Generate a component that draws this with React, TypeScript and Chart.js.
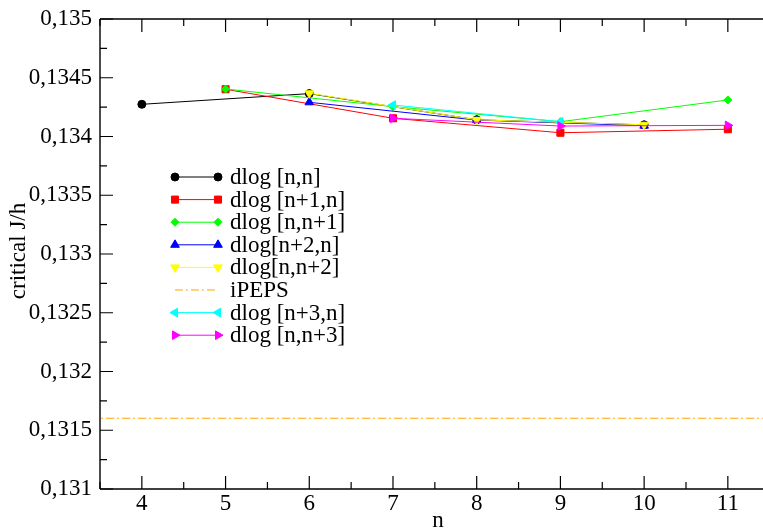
import React, { useEffect, useRef } from 'react';
import { Chart, registerables } from 'chart.js';
import { drawPoint } from 'chart.js/helpers';

Chart.register(...registerables);

const FONT = '"Liberation Serif", "Times New Roman", serif';
const FS = 23;

// ---- data ----
const xTicks = [4, 5, 6, 7, 8, 9, 10, 11];
const xMinor = [3.5, 4.5, 5.5, 6.5, 7.5, 8.5, 9.5, 10.5, 11.5];
const yTicks = [0.131, 0.1315, 0.132, 0.1325, 0.133, 0.1335, 0.134, 0.1345, 0.135];
const yMinor = [0.13125, 0.13175, 0.13225, 0.13275, 0.13325, 0.13375, 0.13425, 0.13475];
const xMin = 3.5;
const xMax = 11.42;
const yMin = 0.131;
const yMax = 0.135;

const nnX = [4, 6, 8, 10];
const nnY = [0.134274, 0.134365, 0.134142, 0.134099];
const n1nX = [5, 7, 9, 11];
const n1nY = [0.134402, 0.134155, 0.134032, 0.134062];
const nn1X = [5, 7, 9, 11];
const nn1Y = [0.134404, 0.134254, 0.134126, 0.134311];
const n2nX = [6, 8, 10];
const n2nY = [0.134291, 0.13414, 0.134092];
const nn2X = [6, 8, 10];
const nn2Y = [0.134368, 0.134142, 0.1341];
const ipepsX = [3, 12];
const ipepsY = [0.131602, 0.131602];
const n3nX = [7, 9];
const n3nY = [0.134268, 0.134126];
const nn3X = [7, 9, 11];
const nn3Y = [0.134155, 0.134089, 0.134095];

type Series = {
  label: string;
  xs: number[];
  ys: number[];
  color: string;
  style: any;
  rot: number;
  radius: number;
  dash?: number[];
};

const series: Series[] = [
  { label: 'dlog [n,n]', xs: nnX, ys: nnY, color: '#000000', style: 'circle', rot: 0, radius: 4 },
  { label: 'dlog [n+1,n]', xs: n1nX, ys: n1nY, color: '#ff0000', style: 'rect', rot: 0, radius: 5 },
  { label: 'dlog [n,n+1]', xs: nn1X, ys: nn1Y, color: '#00ff00', style: 'rectRot', rot: 0, radius: 4 },
  { label: 'dlog[n+2,n]', xs: n2nX, ys: n2nY, color: '#0000ff', style: 'triangle', rot: 0, radius: 5 },
  { label: 'dlog[n,n+2]', xs: nn2X, ys: nn2Y, color: '#ffff00', style: 'triangle', rot: 180, radius: 5 },
  { label: 'iPEPS', xs: ipepsX, ys: ipepsY, color: '#ffa500', style: false, rot: 0, radius: 0, dash: [8, 3, 2, 3] },
  { label: 'dlog [n+3,n]', xs: n3nX, ys: n3nY, color: '#00ffff', style: 'triangle', rot: -90, radius: 5 },
  { label: 'dlog [n,n+3]', xs: nn3X, ys: nn3Y, color: '#ff00ff', style: 'triangle', rot: 90, radius: 5 },
];

const fmt = (v: number) => String(Math.round(v * 1e5) / 1e5).replace('.', ',');

const framePlugin = {
  id: 'frame',
  afterDatasetsDraw(chart: any) {
    const ctx = chart.ctx;
    const a = chart.chartArea;
    const xs = chart.scales.x;
    const ys = chart.scales.y;
    ctx.save();
    ctx.strokeStyle = '#000';
    ctx.lineWidth = 1.4;
    ctx.beginPath();
    ctx.moveTo(a.left, a.top);
    ctx.lineTo(a.left, a.bottom);
    ctx.moveTo(a.left, a.top);
    ctx.lineTo(a.right + 2, a.top);
    ctx.moveTo(a.left, a.bottom);
    ctx.lineTo(a.right + 2, a.bottom);
    ctx.stroke();
    ctx.lineWidth = 1.2;
    ctx.beginPath();
    const tick = (v: number, len: number) => {
      const px = xs.getPixelForValue(v);
      if (px < a.left - 1 || px > a.right + 1) return;
      ctx.moveTo(px, a.bottom);
      ctx.lineTo(px, a.bottom - len);
      ctx.moveTo(px, a.top);
      ctx.lineTo(px, a.top + len);
    };
    xTicks.forEach((v) => tick(v, 13));
    xMinor.forEach((v) => tick(v, 7));
    const ytick = (v: number, len: number) => {
      const py = ys.getPixelForValue(v);
      ctx.moveTo(a.left, py);
      ctx.lineTo(a.left + len, py);
    };
    yTicks.forEach((v) => ytick(v, 13));
    yMinor.forEach((v) => ytick(v, 7));
    ctx.stroke();

    // legend
    const rowY0 = 177;
    const rowH = 22.6;
    series.forEach((s, i) => {
      const y = rowY0 + i * rowH;
      ctx.save();
      ctx.strokeStyle = s.color;
      ctx.lineWidth = 1;
      if (s.dash) ctx.setLineDash(s.dash);
      ctx.beginPath();
      ctx.moveTo(175, y);
      ctx.lineTo(218, y);
      ctx.stroke();
      ctx.setLineDash([]);
      if (s.style) {
        ctx.fillStyle = s.color;
        ctx.strokeStyle = s.color;
        const opts = { pointStyle: s.style, rotation: s.rot, radius: s.radius, borderWidth: 1 };
        drawPoint(ctx, opts as any, 175, y);
        drawPoint(ctx, opts as any, 218, y);
      }
      ctx.restore();
      ctx.fillStyle = '#000';
      ctx.font = FS + 'px ' + FONT;
      ctx.textAlign = 'left';
      ctx.textBaseline = 'middle';
      ctx.fillText(s.label, 230, y + 1);
    });

    // axis titles
    ctx.fillStyle = '#000';
    ctx.font = FS + 'px ' + FONT;
    ctx.textAlign = 'center';
    ctx.textBaseline = 'middle';
    ctx.fillText('n', 438, 521);
    ctx.save();
    ctx.translate(19, 251);
    ctx.rotate(-Math.PI / 2);
    ctx.fillText('critical J/h', 0, 0);
    ctx.restore();
    ctx.restore();
  },
};

export default function App() {
  const ref = useRef<HTMLCanvasElement | null>(null);
  useEffect(() => {
    if (!ref.current) return;
    const datasets = series.map((s, i) => ({
      label: s.label,
      data: s.xs.map((x, k) => ({ x, y: s.ys[k] })),
      borderColor: s.color,
      backgroundColor: s.color,
      borderWidth: 1,
      borderDash: s.dash || [],
      pointStyle: s.style,
      pointRotation: s.rot,
      pointRadius: s.radius,
      pointHoverRadius: s.radius,
      pointBackgroundColor: s.color,
      pointBorderColor: s.color,
      pointBorderWidth: 1,
      tension: 0,
      order: series.length - i,
    }));
    const chart = new Chart(ref.current, {
      type: 'line',
      data: { datasets },
      options: {
        animation: false,
        responsive: false,
        maintainAspectRatio: false,
        layout: { padding: 0, autoPadding: false },
        plugins: { legend: { display: false }, tooltip: { enabled: false }, title: { display: false } },
        scales: {
          x: {
            type: 'linear',
            position: 'bottom',
            min: xMin,
            max: xMax,
            grid: { display: false, drawTicks: false },
            border: { display: false },
            afterBuildTicks: (s: any) => {
              s.ticks = xTicks.map((v) => ({ value: v }));
            },
            afterFit: (s: any) => {
              s.height = 40;
              s.paddingLeft = 0;
              s.paddingRight = 0;
            },
            ticks: {
              autoSkip: false,
              maxRotation: 0,
              padding: 1,
              color: '#000',
              font: { family: FONT, size: FS },
              callback: (v: any) => String(v),
            },
          },
          x2: {
            type: 'linear',
            position: 'top',
            min: xMin,
            max: xMax,
            grid: { display: false, drawTicks: false },
            border: { display: false },
            ticks: { display: false },
            afterFit: (s: any) => {
              s.height = 19;
              s.paddingLeft = 0;
              s.paddingRight = 0;
            },
          },
          y: {
            type: 'linear',
            position: 'left',
            min: yMin,
            max: yMax,
            grid: { display: false, drawTicks: false },
            border: { display: false },
            afterBuildTicks: (s: any) => {
              s.ticks = yTicks.map((v) => ({ value: v }));
            },
            afterFit: (s: any) => {
              s.width = 100;
              s.paddingTop = 0;
              s.paddingBottom = 0;
            },
            ticks: {
              padding: 8,
              color: '#000',
              font: { family: FONT, size: FS },
              callback: (v: any) => fmt(Number(v)),
            },
          },
        },
      } as any,
      plugins: [framePlugin],
    });
    return () => chart.destroy();
  }, []);
  return (
    <div style={{ position: 'fixed', left: 0, top: 0, width: 763, height: 529, background: '#fff' }}>
      <canvas ref={ref} width={763} height={529} style={{ display: 'block' }} />
    </div>
  );
}
